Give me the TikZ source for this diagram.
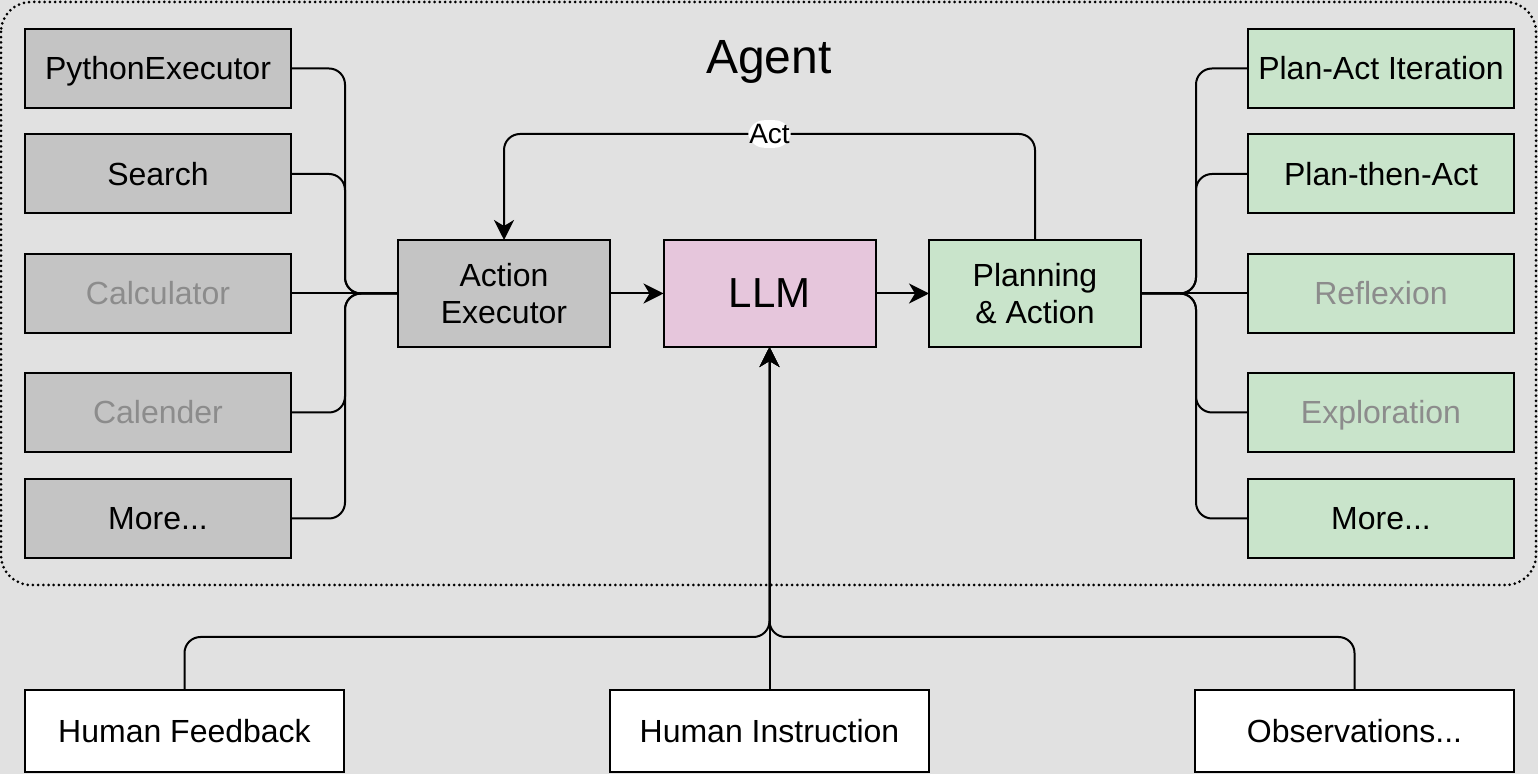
\documentclass[tikz,border=0pt]{standalone}
\usepackage{fontspec}
\setmainfont{Liberation Sans}
\usetikzlibrary{arrows.meta}
\definecolor{bgc}{HTML}{E1E1E1}
\definecolor{toolc}{HTML}{C4C4C4}
\definecolor{planc}{HTML}{C9E4CB}
\definecolor{llmc}{HTML}{E6C6DC}
\definecolor{dimtext}{HTML}{8C8C8C}
\tikzset{
  box/.style={draw=black, line width=1pt, inner sep=0pt, outer sep=0pt, align=center,
    font=\fontsize{16}{18.5}\selectfont},
  side/.style={box, minimum width=133pt, minimum height=39.5pt, text height=11.5pt, text depth=0pt},
  tool/.style={side, fill=toolc},
  plan/.style={side, fill=planc},
  mid/.style={box, minimum width=106pt, minimum height=53.5pt},
  bottom/.style={box, fill=white, minimum width=159.5pt, minimum height=41pt, text height=11.5pt, text depth=0pt},
  edge/.style={draw=black, line width=1pt, rounded corners=8pt},
  arr/.style={edge, -{Stealth[length=10pt, width=10pt, inset=3pt]}},
  actlabel/.style={fill=white, inner xsep=0.5pt, inner ysep=2pt, font=\fontsize{14}{16}\selectfont},
}
\begin{document}
\begin{tikzpicture}[x=0.5pt, y=-0.5pt]
\useasboundingbox (0,0) rectangle (1538,774);
\fill[bgc] (0,0) rectangle (1538,774);
% container
\draw[line width=1.5pt, line cap=round, dash pattern=on 0pt off 2.6pt, rounded corners=15pt] (1,2) rectangle (1536,585);
\node[font=\fontsize{24}{28}\selectfont, text height=17pt, text depth=0pt] (title) at (769,57) {Agent};
% left tools
\node[tool] (py) at (158,68.5) {PythonExecutor};
\node[tool] (se) at (158,174) {Search};
\node[tool, text=dimtext] (ca) at (158,293.5) {Calculator};
\node[tool, text=dimtext] (cl) at (158,412.5) {Calender};
\node[tool] (ml) at (158,518.5) {More...};
% right strategies
\node[plan] (pai) at (1381,68.5) {Plan-Act Iteration};
\node[plan] (pta) at (1381,174) {Plan-then-Act};
\node[plan, text=dimtext] (rf) at (1381,293.5) {Reflexion};
\node[plan, text=dimtext] (ex) at (1381,412.5) {Exploration};
\node[plan] (mr) at (1381,518.5) {More...};
% middle
\node[mid, fill=toolc] (ae) at (504,293.5) {Action\\Executor};
\node[mid, fill=llmc, font=\fontsize{21}{24}\selectfont] (llm) at (769.5,293.5) {LLM};
\node[mid, fill=planc] (pa) at (1035,293.5) {Planning\\\& Action};
% bottom
\node[bottom] (hf) at (184.5,731) {Human Feedback};
\node[bottom] (hi) at (769.5,731) {Human Instruction};
\node[bottom] (ob) at (1354.5,731) {Observations...};
% bus coordinates
\coordinate (lbus) at (345,293.5);
\coordinate (rbus) at (1196,293.5);
\coordinate (bbus) at (769.5,637);
\coordinate (acttop) at (769.5,134);
% left connectors
\draw[edge] (py.east) -| (lbus) -- (ae.west);
\draw[edge] (se.east) -| (lbus) -- (ae.west);
\draw[edge] (ca.east) -- (ae.west);
\draw[edge] (cl.east) -| (lbus) -- (ae.west);
\draw[edge] (ml.east) -| (lbus) -- (ae.west);
% right connectors
\draw[edge] (pa.east) -- (rbus) |- (pai.west);
\draw[edge] (pa.east) -- (rbus) |- (pta.west);
\draw[edge] (pa.east) -- (rf.west);
\draw[edge] (pa.east) -- (rbus) |- (ex.west);
\draw[edge] (pa.east) -- (rbus) |- (mr.west);
% main flow
\draw[arr] (ae.east) -- (llm.west);
\draw[arr] (llm.east) -- (pa.west);
\draw[arr] (pa.north) |- (acttop) node[actlabel] {Act} -| (ae.north);
% bottom inputs
\draw[arr] (hf.north) |- (bbus) -- (llm.south);
\draw[arr] (ob.north) |- (bbus) -- (llm.south);
\draw[arr] (hi.north) -- (llm.south);
\end{tikzpicture}
\end{document}
